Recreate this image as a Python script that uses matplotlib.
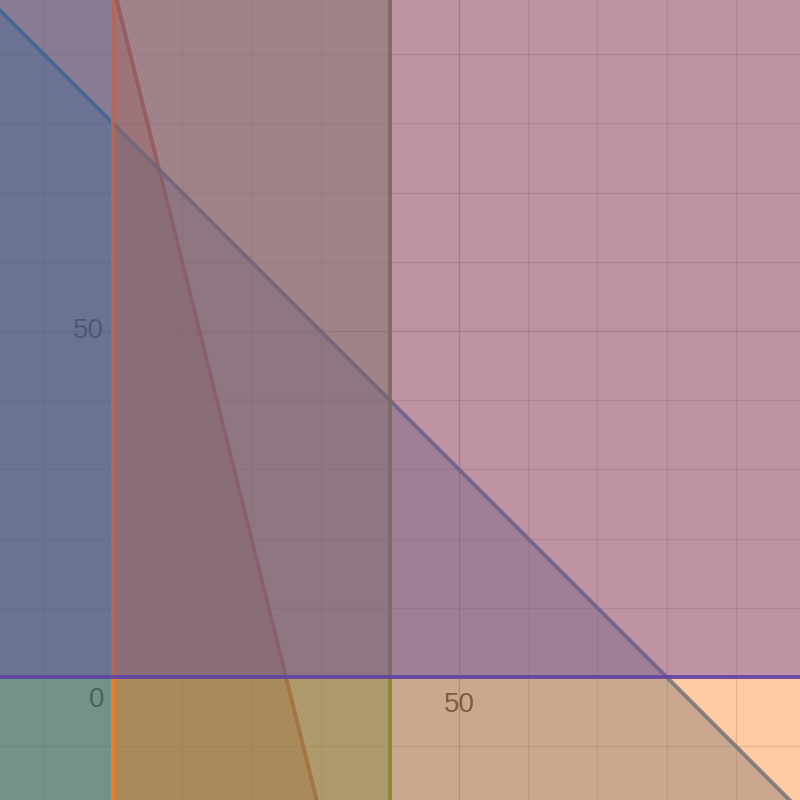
import numpy as np
import matplotlib.pyplot as plt

# inequalities, drawn in this order (later ones sit on top)
# a*x + b*y <= c  or >= c
names = ["red", "blue", "green", "orange", "purple"]
colors = ["#c74440", "#2d70b3", "#388c46", "#fa7e19", "#6042a6"]
a = [4, 1, 1, 1, 0]
b = [1, 1, 0, 0, 1]
c = [100, 80, 40, 0, 0]
sense = ["<=", "<=", "<=", ">=", ">="]

xlim = (-16.33, 99.28)
ylim = (-17.77, 97.83)
tick_labels = ["0", "50"]

fig = plt.figure(figsize=(8, 8), dpi=100)
ax = fig.add_axes([0, 0, 1, 1])
ax.set_xlim(xlim)
ax.set_ylim(ylim)
ax.axis("off")

# grid
for g in np.arange(-10, 100, 10):
    lw_alpha = 0.25 if g % 50 == 0 else 0.14
    ax.axvline(g, color="black", alpha=lw_alpha, lw=1, zorder=0)
    ax.axhline(g, color="black", alpha=lw_alpha, lw=1, zorder=0)

# tick labels (under the shading)
tcol = "#2a2a2a"
ax.text(-1.3, 50, tick_labels[1], ha="right", va="center", fontsize=20,
        color=tcol, family="Liberation Sans", zorder=0.5)
ax.text(-1.3, -1.5, tick_labels[0], ha="right", va="top", fontsize=20,
        color=tcol, family="Liberation Sans", zorder=0.5)
ax.text(50, -2.1, tick_labels[1], ha="center", va="top", fontsize=20,
        color=tcol, family="Liberation Sans", zorder=0.5)

xs = np.array([xlim[0] - 5, xlim[1] + 5])
z = 1
for i in range(len(names)):
    col = colors[i]
    if b[i] == 0:
        # vertical boundary x = c/a
        xv = c[i] / a[i]
        if sense[i] == "<=":
            ax.axvspan(xlim[0] - 5, xv, color=col, alpha=0.4, lw=0, zorder=z)
        else:
            ax.axvspan(xv, xlim[1] + 5, color=col, alpha=0.4, lw=0, zorder=z)
        ax.axvline(xv, color=col, lw=2.8, alpha=0.9, zorder=z + 1)
    else:
        ys = (c[i] - a[i] * xs) / b[i]
        if sense[i] == "<=":
            ax.fill_between(xs, ylim[0] - 5, ys, color=col, alpha=0.4, lw=0, zorder=z)
        else:
            ax.fill_between(xs, ys, ylim[1] + 5, color=col, alpha=0.4, lw=0, zorder=z)
        ax.plot(xs, ys, color=col, lw=2.8, alpha=0.9, zorder=z + 1)
    z += 2

fig.savefig("out.png", dpi=100)
